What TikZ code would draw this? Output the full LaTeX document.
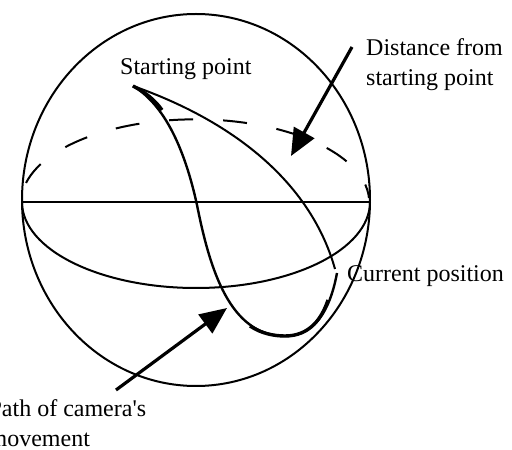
\documentclass[tikz,border=0pt]{standalone}
\usepackage{fontspec}
\setmainfont{Liberation Serif}
\usetikzlibrary{arrows.meta}

\begin{document}
\begin{tikzpicture}
   [x=1pt, y=1pt,
    lbl/.style={inner sep=0pt, anchor=base west, align=left, font=\fontsize{24}{30}\selectfont},
    pointer/.style={line width=3.2pt, -{Triangle[length=27pt, width=23pt]}}]
   \useasboundingbox (0,0) rectangle (512,450);

   % sphere and equator
   \draw[line width=2pt] (196,250) ellipse [x radius=174pt, y radius=186pt];
   \draw[line width=2pt] (22,248) -- (370,248);
   \draw[line width=2pt] (22,248) arc [start angle=180, end angle=360, x radius=174pt, y radius=86pt];
   \draw[line width=2pt, dash pattern=on 24pt off 30pt, dash phase=10pt]
      (369,252) arc [start angle=3, end angle=177, x radius=174pt, y radius=83pt];

   % points on the sphere
   \coordinate (start) at (133,364);
   \coordinate (mid) at (197,245);
   \coordinate (low) at (285,114);
   \coordinate (current) at (337,177);

   \draw[line width=2pt] (start) .. controls (230,330) and (310,270) .. (335,181);
   \draw[line width=2.4pt] (start) .. controls (165,345) and (185,300) .. (mid)
      .. controls (210,180) and (230,114) .. (low)
      .. controls (320,114) and (332,150) .. (current);
   \draw[line width=3.4pt] (start) .. controls (145,358) and (155,350) .. (162,340);
   \draw[line width=3.4pt] (250,124) .. controls (262,116) and (275,114) .. (low)
      .. controls (310,114) and (322,132) .. (328,150);

   % labels (base = last line)
   \node[lbl] (startlbl) at (120,375) {Starting point};
   \node[lbl] (distlbl) at (366,364) {Distance from\\starting point};
   \node[lbl] (curlbl) at (347,168) {Current position};
   \node[lbl] (pathlbl) at (-11.6,3) {Path of camera\textquotesingle s\\movement};

   % arrows
   \coordinate (disttail) at (352,403);
   \coordinate (disttip) at (291,294);
   \coordinate (pathtail) at (116,60);
   \coordinate (pathtip) at (227,142);
   \draw[pointer] (disttail) -- (disttip);
   \draw[pointer] (pathtail) -- (pathtip);
\end{tikzpicture}
\end{document}
